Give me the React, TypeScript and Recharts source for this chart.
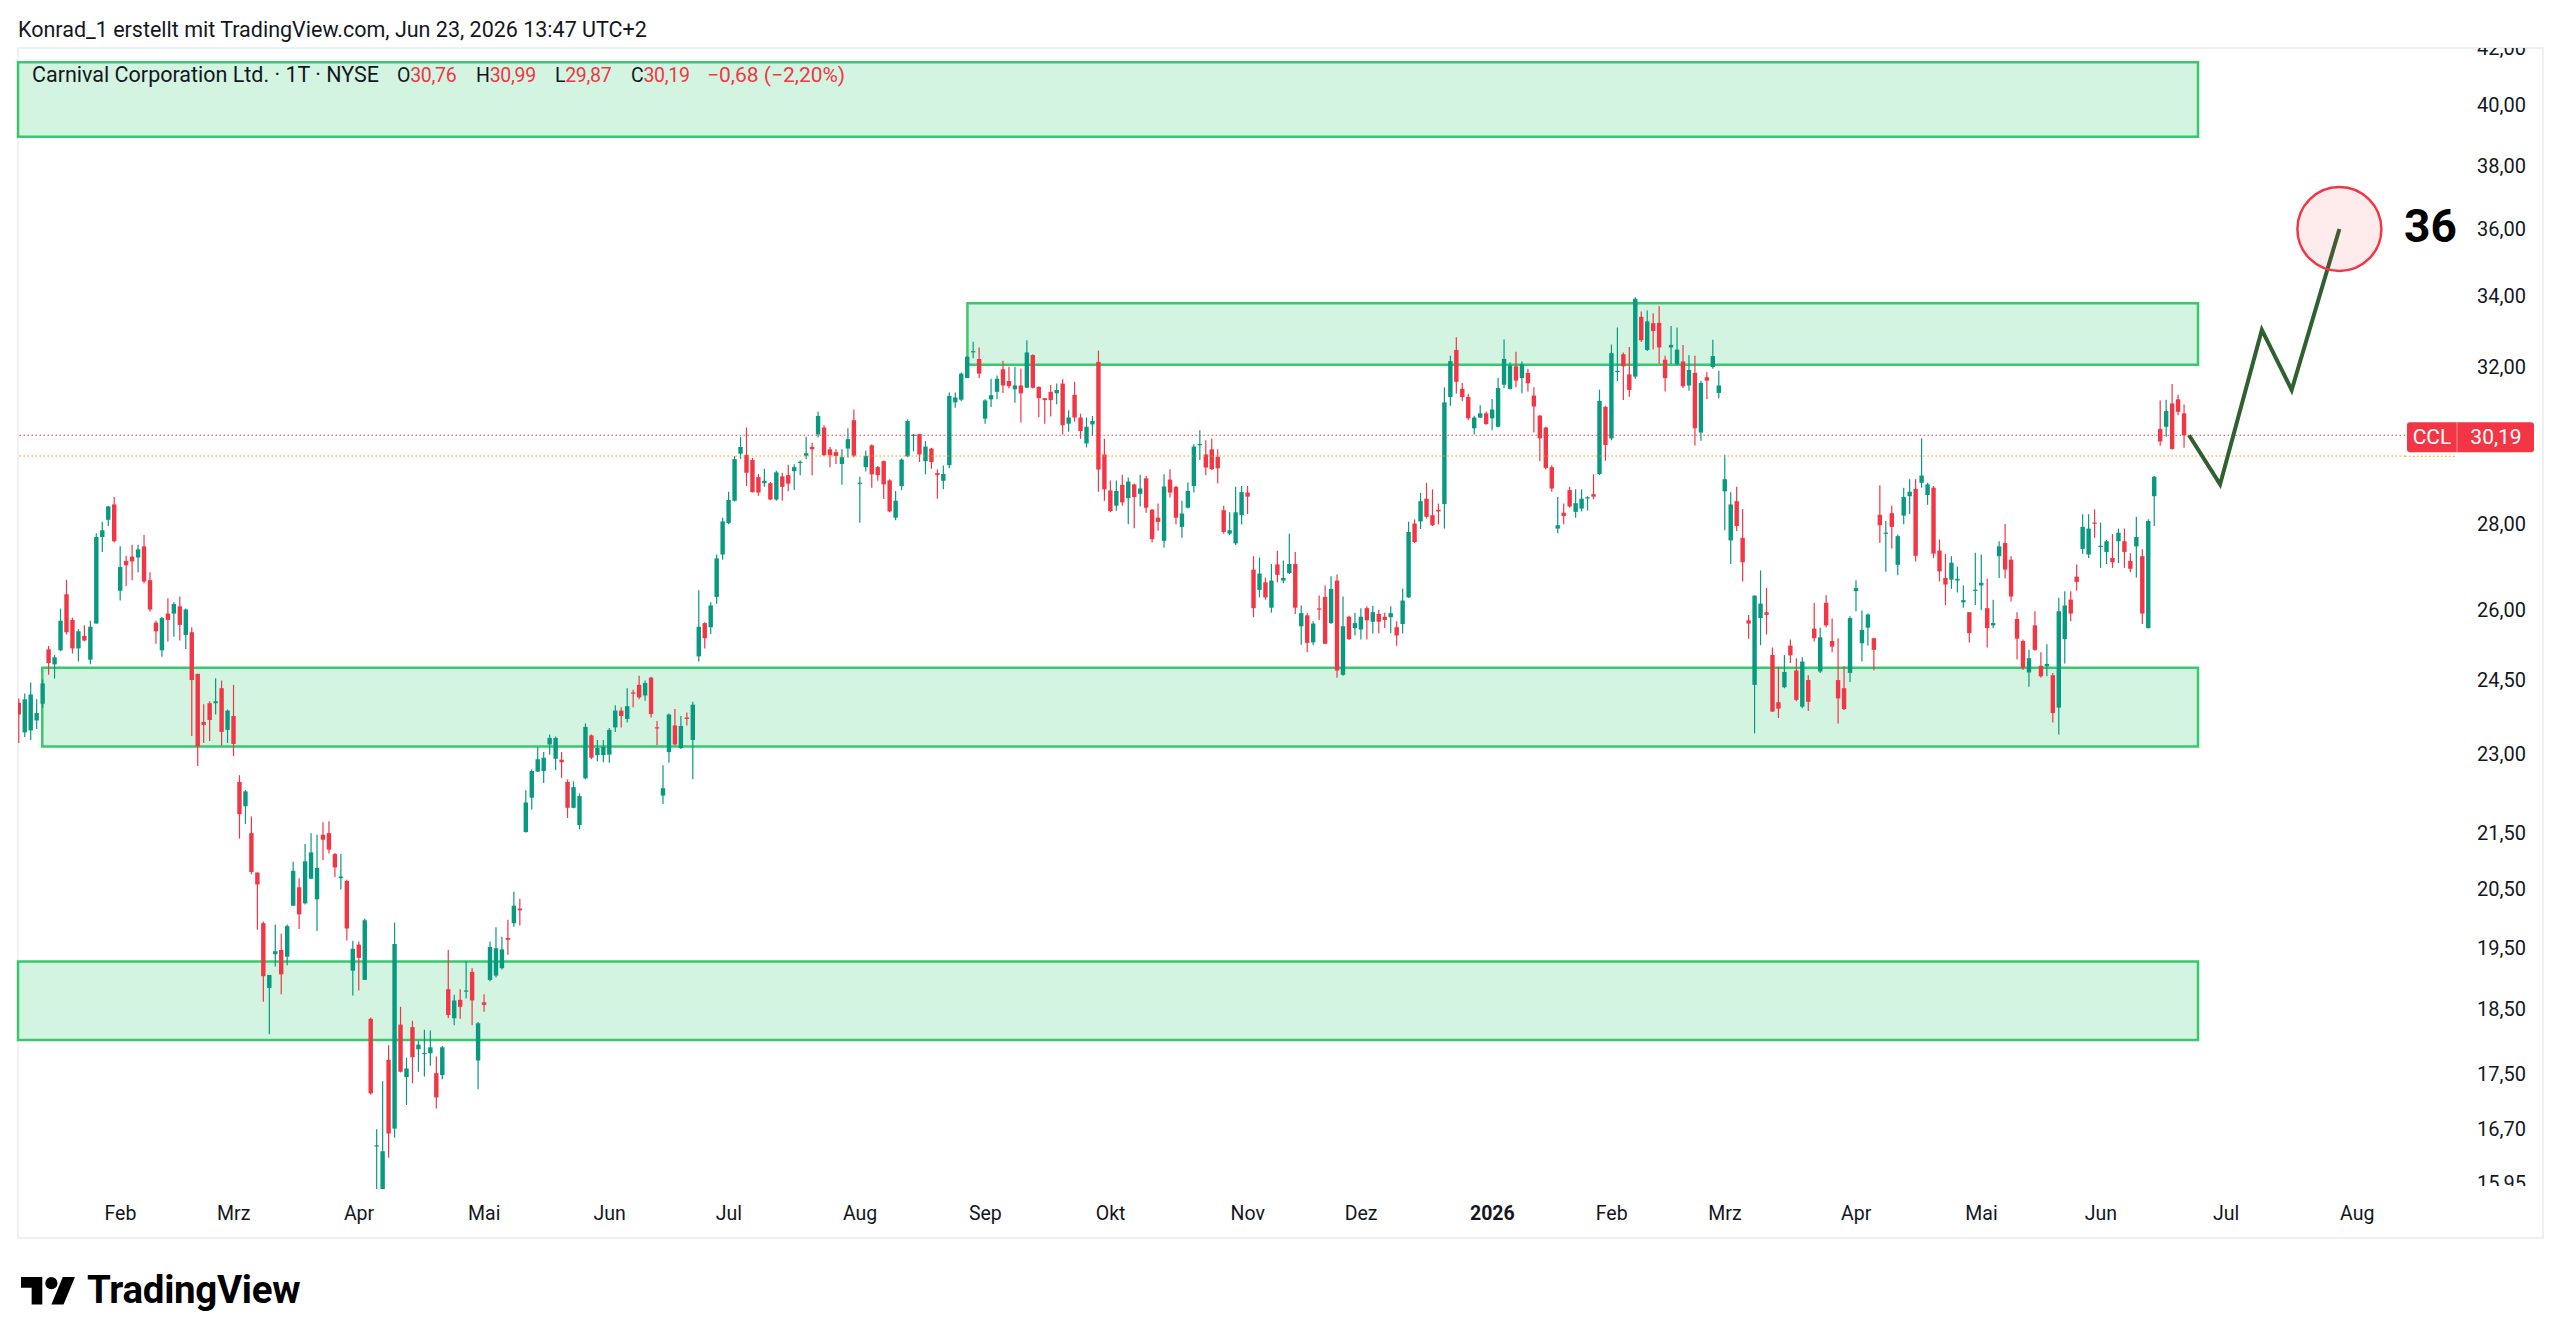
import React from 'react';
import { ComposedChart, Bar, Line, XAxis, YAxis, ReferenceArea, ReferenceLine, ReferenceDot } from 'recharts';

// ---------- data ----------
const FIRST_INDEX = -17; // trading-day index of first candle (0 = first February session)

const OPENS = [
  24.03, 23.43, 23.47, 23.67, 24.01, 25.15, 24.83, 25.13, 26.36, 25.79,
  25.17, 25.44, 24.93, 25.71, 27.68, 28.09, 28.46, 26.44, 27.12, 27.22,
  27.20, 27.46, 26.68, 25.73, 25.13, 25.93, 25.93, 26.09, 25.46, 25.52,
  24.63, 23.64, 24.02, 24.02, 24.33, 23.48, 23.76, 22.46, 22.00, 21.50,
  20.79, 19.91, 18.84, 19.39, 19.46, 19.35, 20.21, 20.53, 20.25, 20.68,
  20.32, 21.47, 21.50, 21.12, 20.69, 20.64, 19.12, 19.55, 18.97, 18.35,
  16.46, 15.87, 17.72, 16.71, 18.26, 17.46, 18.22, 17.88, 17.81, 17.82,
  17.52, 17.49, 18.82, 18.36, 18.65, 18.78, 19.10, 17.71, 18.61, 18.97,
  19.04, 19.16, 19.66, 19.91, 20.16, 21.52, 22.16, 22.66, 22.67, 23.19,
  22.91, 22.89, 22.46, 21.97, 21.65, 22.53, 23.37, 22.98, 22.98, 22.99,
  23.53, 23.87, 23.70, 24.24, 24.40, 24.18, 24.55, 23.53, 22.20, 23.04,
  23.57, 23.12, 23.73, 23.28, 25.00, 25.72, 25.63, 26.30, 27.27, 28.01,
  28.55, 29.72, 29.69, 29.56, 29.13, 28.98, 28.98, 28.58, 29.15, 29.18,
  29.28, 29.49, 29.67, 29.89, 30.21, 30.39, 29.83, 29.76, 29.46, 29.85,
  30.58, 28.97, 29.38, 29.93, 29.38, 29.53, 29.05, 28.14, 28.91, 29.65,
  30.18, 30.22, 29.53, 29.85, 29.23, 29.04, 29.43, 31.05, 31.12, 31.70,
  32.41, 32.22, 30.62, 31.13, 31.33, 31.94, 31.62, 31.40, 31.50, 31.44,
  32.33, 31.46, 31.16, 31.33, 31.29, 31.55, 30.49, 31.25, 30.65, 29.98,
  30.47, 32.14, 29.70, 28.80, 28.43, 28.94, 28.61, 28.95, 28.72, 29.10,
  28.33, 28.14, 27.59, 29.07, 28.89, 27.92, 28.38, 28.91, 29.94, 29.70,
  29.83, 29.64, 28.32, 27.76, 27.53, 28.20, 28.75, 26.92, 26.46, 26.63,
  26.06, 27.04, 26.67, 26.84, 27.05, 25.65, 25.89, 25.30, 26.04, 26.30,
  25.72, 26.67, 24.61, 25.86, 25.61, 25.58, 26.05, 25.75, 25.92, 25.86,
  25.85, 25.63, 25.70, 26.29, 28.00, 28.05, 28.60, 28.20, 28.33, 28.47,
  31.19, 32.47, 31.41, 31.19, 30.37, 30.65, 30.76, 30.63, 30.41, 31.52,
  31.41, 32.02, 31.70, 31.84, 31.23, 30.70, 30.39, 29.38, 27.88, 28.26,
  28.81, 28.28, 28.36, 28.61, 28.71, 29.21, 30.93, 30.11, 31.87, 32.35,
  31.80, 31.74, 33.40, 32.47, 33.22, 33.23, 32.20, 32.54, 32.08, 32.15,
  31.50, 31.84, 30.26, 31.72, 32.00, 31.30, 28.78, 27.60, 28.54, 27.66,
  25.78, 24.40, 25.83, 25.96, 25.03, 24.04, 24.35, 25.23, 24.70, 23.95,
  24.50, 25.60, 24.68, 26.17, 25.33, 24.50, 24.33, 24.65, 26.43, 25.28,
  25.62, 25.39, 28.21, 27.76, 28.25, 27.03, 28.19, 28.66, 28.84, 28.99,
  28.69, 28.87, 27.36, 26.73, 26.69, 26.67, 26.18, 25.96, 26.44, 26.56,
  26.05, 25.67, 27.23, 27.54, 27.15, 25.81, 25.33, 24.66, 25.67, 24.80,
  24.79, 24.60, 23.93, 25.37, 26.24, 26.76, 27.40, 27.27, 28.02, 27.45,
  27.33, 27.19, 27.58, 27.58, 27.12, 27.46, 27.23, 25.61, 28.66, 30.35,
  30.41, 31.02, 31.13, 30.76,
];

const HIGHS = [
  24.12, 24.22, 24.45, 24.10, 24.51, 25.22, 25.03, 26.04, 26.69, 25.84,
  25.59, 25.67, 25.77, 27.77, 28.04, 28.43, 28.64, 27.46, 27.24, 27.50,
  27.50, 27.73, 26.86, 25.77, 25.86, 26.27, 26.18, 26.31, 26.04, 25.63,
  24.63, 24.00, 24.06, 24.54, 24.49, 23.89, 24.40, 22.59, 22.31, 21.81,
  20.79, 19.94, 19.05, 19.89, 19.73, 19.89, 20.98, 20.69, 21.30, 21.50,
  21.47, 21.70, 21.72, 21.14, 21.12, 20.66, 19.61, 19.60, 19.99, 18.37,
  16.70, 17.40, 17.94, 19.92, 18.54, 17.75, 18.32, 18.01, 18.18, 18.17,
  17.77, 17.93, 19.46, 18.73, 18.82, 19.28, 19.16, 18.30, 18.74, 19.60,
  19.84, 19.68, 19.97, 20.45, 20.33, 22.30, 22.70, 23.14, 23.04, 23.39,
  23.35, 23.04, 22.51, 22.47, 22.24, 23.61, 23.39, 23.28, 23.28, 23.52,
  23.98, 23.94, 24.33, 24.30, 24.59, 24.49, 24.57, 23.66, 22.78, 23.81,
  23.90, 23.76, 23.83, 24.05, 26.45, 25.74, 26.18, 27.27, 28.14, 28.77,
  29.66, 30.15, 30.39, 29.61, 29.21, 29.34, 29.01, 29.29, 29.24, 29.44,
  29.45, 29.55, 30.15, 30.00, 30.80, 30.45, 29.89, 29.83, 29.83, 30.37,
  30.86, 29.14, 29.80, 29.96, 29.41, 29.55, 29.08, 28.79, 29.60, 30.60,
  30.22, 30.23, 30.04, 29.87, 29.32, 29.42, 31.31, 31.31, 31.85, 32.30,
  32.70, 32.54, 31.13, 31.68, 31.77, 32.17, 32.01, 32.01, 31.96, 32.74,
  32.35, 31.48, 31.16, 31.51, 31.55, 31.67, 30.84, 31.60, 30.75, 30.65,
  30.69, 32.45, 30.10, 29.05, 29.05, 29.19, 29.12, 28.97, 29.19, 29.16,
  28.35, 28.48, 29.20, 29.33, 28.91, 28.55, 29.00, 29.96, 30.32, 30.06,
  30.11, 29.83, 28.43, 28.27, 28.89, 28.91, 28.91, 27.23, 27.20, 26.74,
  27.05, 27.36, 27.13, 27.76, 27.33, 26.11, 25.94, 25.76, 26.33, 26.56,
  26.77, 26.81, 26.31, 25.88, 25.94, 26.05, 26.09, 26.10, 26.01, 25.95,
  26.09, 25.76, 26.49, 28.04, 28.10, 28.74, 28.99, 28.83, 28.48, 31.45,
  32.31, 32.82, 31.57, 31.28, 30.70, 30.97, 30.81, 31.14, 31.71, 32.76,
  32.13, 32.42, 32.15, 31.95, 31.45, 30.72, 30.41, 29.43, 28.64, 28.48,
  28.89, 28.83, 28.83, 28.66, 29.20, 31.39, 30.96, 32.62, 33.10, 32.40,
  32.55, 33.96, 33.55, 33.58, 33.50, 33.70, 32.31, 33.14, 33.10, 32.61,
  32.32, 32.31, 31.63, 31.86, 32.75, 31.90, 29.69, 28.76, 28.89, 28.35,
  25.90, 26.33, 26.90, 26.50, 25.19, 24.78, 25.03, 25.36, 24.96, 24.98,
  24.60, 26.17, 25.62, 26.34, 25.82, 25.39, 24.79, 25.87, 26.68, 26.00,
  25.93, 25.40, 28.93, 28.06, 28.43, 27.74, 28.87, 29.08, 29.08, 30.11,
  28.99, 28.91, 27.62, 27.28, 27.23, 26.99, 26.56, 25.96, 27.31, 27.27,
  26.71, 26.24, 27.58, 27.99, 27.23, 25.96, 25.36, 25.14, 25.98, 25.09,
  25.26, 24.65, 26.28, 26.43, 26.43, 27.04, 28.22, 28.22, 28.34, 28.02,
  27.61, 27.75, 27.88, 27.88, 27.30, 28.16, 27.39, 28.10, 29.16, 31.10,
  31.12, 31.54, 31.25, 30.99,
];

const LOWS = [
  23.22, 23.34, 23.28, 23.50, 23.93, 24.61, 24.53, 25.11, 25.47, 25.06,
  24.89, 25.32, 24.83, 25.71, 27.33, 27.94, 27.55, 26.22, 26.54, 26.68,
  26.86, 26.61, 25.97, 25.27, 24.99, 25.32, 25.42, 25.34, 25.16, 23.36,
  22.77, 23.22, 23.26, 23.79, 23.17, 23.22, 22.96, 21.40, 21.67, 20.76,
  19.80, 18.62, 18.11, 19.19, 18.74, 19.21, 20.21, 19.81, 20.23, 20.68,
  19.78, 21.01, 21.13, 20.71, 20.49, 19.62, 18.72, 18.80, 18.97, 17.20,
  15.87, 15.87, 16.30, 16.58, 17.53, 17.05, 17.37, 17.54, 17.47, 17.63,
  17.00, 17.43, 18.36, 18.25, 18.35, 18.67, 18.25, 17.28, 18.46, 18.95,
  19.01, 19.14, 19.38, 19.85, 19.87, 21.51, 21.94, 22.65, 22.44, 22.99,
  22.69, 22.54, 21.78, 21.96, 21.57, 22.51, 22.90, 22.86, 22.84, 22.83,
  23.44, 23.53, 23.63, 23.94, 24.10, 24.07, 23.73, 23.18, 22.04, 22.83,
  23.17, 23.10, 23.57, 22.51, 24.89, 25.17, 25.48, 26.15, 27.15, 27.98,
  28.53, 29.59, 28.91, 28.75, 28.67, 28.89, 28.56, 28.55, 28.55, 28.78,
  28.81, 29.18, 29.58, 29.18, 30.13, 29.66, 29.38, 29.46, 28.94, 29.62,
  29.63, 28.02, 29.27, 28.87, 29.04, 28.59, 28.27, 28.08, 28.81, 29.63,
  29.78, 29.51, 29.20, 29.34, 28.60, 28.83, 29.35, 30.91, 31.08, 31.70,
  32.24, 31.70, 30.49, 30.93, 31.13, 31.30, 31.42, 31.04, 30.52, 31.44,
  31.42, 30.66, 30.49, 30.68, 31.00, 30.21, 30.28, 30.54, 30.10, 29.88,
  30.18, 28.77, 28.55, 28.27, 28.31, 28.43, 27.98, 27.89, 28.41, 28.26,
  27.55, 27.83, 27.43, 28.63, 27.98, 27.66, 28.36, 28.75, 29.56, 29.18,
  29.31, 28.98, 27.76, 27.72, 27.49, 27.98, 28.23, 25.85, 26.29, 26.24,
  25.95, 26.63, 26.61, 26.82, 25.92, 25.25, 25.09, 25.24, 25.79, 25.26,
  25.70, 24.55, 24.59, 25.35, 25.45, 25.36, 25.36, 25.49, 25.50, 25.61,
  25.50, 25.23, 25.49, 26.28, 27.54, 27.87, 28.12, 27.94, 27.98, 27.88,
  30.96, 31.28, 31.08, 30.58, 30.21, 30.64, 30.46, 30.32, 30.39, 31.43,
  31.39, 31.45, 31.29, 31.34, 30.26, 29.53, 29.32, 28.77, 27.77, 27.98,
  28.38, 28.14, 28.29, 28.31, 28.59, 29.18, 29.54, 30.06, 31.62, 31.11,
  31.20, 31.68, 32.69, 32.44, 32.48, 32.08, 31.34, 32.08, 32.04, 31.43,
  31.36, 29.93, 30.05, 31.14, 31.95, 31.16, 27.84, 27.05, 27.82, 26.65,
  25.38, 23.41, 25.24, 25.47, 23.84, 23.72, 24.33, 24.86, 24.06, 23.92,
  23.86, 25.32, 24.65, 25.63, 25.09, 23.61, 23.88, 24.46, 25.98, 24.89,
  25.23, 24.70, 27.54, 26.87, 27.41, 26.79, 27.98, 28.23, 27.11, 28.87,
  28.45, 27.19, 26.65, 26.12, 26.48, 26.40, 26.06, 25.30, 26.12, 26.01,
  25.19, 25.61, 26.73, 26.72, 26.20, 24.94, 24.71, 24.36, 25.12, 24.55,
  24.58, 23.63, 23.39, 24.85, 25.76, 26.44, 27.28, 27.19, 27.66, 26.96,
  27.05, 26.96, 27.07, 26.96, 26.86, 26.74, 25.70, 25.60, 27.94, 29.92,
  30.15, 29.82, 30.71, 29.87,
];

const CLOSES = [
  23.79, 24.10, 24.20, 23.82, 24.43, 24.86, 24.98, 25.77, 25.52, 25.17,
  25.54, 25.34, 25.64, 27.68, 27.84, 28.41, 27.58, 26.98, 27.02, 27.11,
  27.39, 26.65, 26.02, 25.54, 25.83, 25.79, 26.14, 25.68, 26.02, 24.50,
  23.15, 23.58, 23.68, 24.06, 23.44, 23.87, 23.20, 21.85, 22.28, 20.80,
  20.58, 19.03, 19.05, 19.44, 19.06, 19.86, 20.82, 20.06, 20.99, 21.15,
  20.87, 21.38, 21.20, 20.88, 20.72, 19.82, 19.48, 19.33, 19.96, 17.22,
  16.47, 16.39, 16.64, 19.56, 17.54, 17.59, 17.76, 17.95, 17.82, 17.91,
  17.16, 17.91, 18.41, 18.64, 18.54, 18.80, 18.64, 18.28, 18.57, 19.51,
  19.49, 19.47, 19.63, 20.21, 20.13, 22.07, 22.67, 22.90, 22.93, 23.32,
  23.32, 22.84, 21.97, 22.36, 22.19, 23.54, 22.93, 23.12, 23.14, 23.48,
  23.87, 23.76, 23.96, 24.22, 24.14, 24.44, 23.80, 23.51, 22.34, 23.79,
  23.19, 23.56, 23.70, 23.99, 25.64, 25.39, 26.11, 27.18, 28.05, 28.57,
  29.58, 29.89, 29.24, 28.76, 28.75, 29.04, 28.58, 29.25, 28.89, 28.97,
  29.38, 29.51, 29.73, 29.83, 30.69, 29.68, 29.68, 29.66, 29.63, 30.09,
  29.67, 28.99, 29.66, 29.20, 29.18, 28.95, 28.29, 28.55, 29.57, 30.56,
  30.20, 29.70, 29.90, 29.51, 29.18, 29.21, 31.22, 31.18, 31.82, 32.28,
  32.43, 31.82, 31.10, 31.24, 31.68, 31.50, 31.48, 31.50, 31.29, 32.40,
  31.44, 31.16, 31.11, 31.11, 31.38, 30.45, 30.65, 30.65, 30.30, 30.41,
  30.56, 29.32, 28.83, 28.30, 28.79, 28.51, 29.02, 28.64, 28.85, 28.38,
  27.63, 28.04, 28.90, 28.75, 28.14, 28.24, 28.79, 29.90, 29.96, 29.37,
  29.33, 29.35, 27.80, 27.84, 28.27, 28.76, 28.65, 26.05, 26.83, 26.29,
  26.67, 26.80, 26.73, 27.05, 26.06, 25.94, 25.29, 25.71, 26.02, 25.27,
  26.48, 24.70, 25.65, 25.37, 25.72, 25.86, 25.78, 25.96, 25.75, 25.79,
  25.94, 25.45, 26.22, 27.80, 27.56, 28.54, 28.16, 27.96, 28.29, 31.05,
  32.16, 31.60, 31.19, 30.63, 30.65, 30.76, 30.48, 30.86, 31.43, 32.22,
  32.04, 31.63, 32.08, 31.56, 30.94, 30.11, 29.36, 28.85, 27.96, 28.18,
  28.41, 28.49, 28.60, 28.63, 28.65, 31.09, 29.94, 32.38, 31.89, 32.02,
  31.38, 33.92, 32.74, 33.27, 33.00, 32.54, 31.70, 32.61, 32.48, 31.48,
  31.92, 30.37, 31.57, 31.63, 32.30, 31.50, 29.08, 28.46, 27.94, 27.09,
  25.71, 26.33, 26.15, 25.90, 23.85, 23.91, 24.67, 25.02, 24.09, 24.89,
  24.05, 25.39, 25.41, 25.67, 25.21, 24.12, 23.90, 25.83, 26.50, 25.57,
  25.91, 25.14, 27.96, 27.78, 27.92, 27.70, 28.64, 28.77, 27.24, 29.17,
  28.95, 27.29, 26.88, 26.58, 27.08, 26.71, 26.23, 25.50, 26.46, 26.62,
  25.61, 25.72, 27.46, 26.92, 26.31, 25.38, 24.76, 24.96, 25.14, 24.58,
  24.84, 23.82, 25.98, 26.11, 25.93, 26.64, 27.92, 27.88, 28.00, 27.47,
  27.58, 27.09, 27.78, 27.33, 26.94, 27.68, 25.93, 28.06, 29.14, 30.03,
  30.82, 29.84, 30.80, 30.19,
];

const MONTH_TICKS = [0, 19, 40, 61, 82, 102, 124, 145, 166, 189, 208, 230, 250, 269, 291, 312, 332, 353, 375];
const MONTH_LABELS = ['Feb', 'Mrz', 'Apr', 'Mai', 'Jun', 'Jul', 'Aug', 'Sep', 'Okt', 'Nov', 'Dez', '2026', 'Feb', 'Mrz', 'Apr', 'Mai', 'Jun', 'Jul', 'Aug'];
const PRICE_TICKS = [15.95, 16.7, 17.5, 18.5, 19.5, 20.5, 21.5, 23, 24.5, 26, 28, 32, 34, 36, 38, 40, 42];

const X_DOMAIN = [-17.17, 383];
const Y_DOMAIN = [15.83, 42.01];

// support / resistance zones (time index range, price range)
const ZONE_X1 = [-17.17, 142, -13.1, -17.17];
const ZONE_X2 = [348.3, 348.3, 348.3, 348.3];
const ZONE_TOP = [41.5, 33.79, 24.76, 19.27];
const ZONE_BOTTOM = [38.95, 32.06, 23.15, 18.02];

// projected path
const PROJ_T = [346.8, 352, 359, 364, 372];
const PROJ_V = [30.19, 28.95, 33.03, 31.38, 36];

const TARGET_T = 372;
const TARGET_PRICE = 36;
const TARGET_LABEL = '36';

const TICKER = 'CCL';
const LAST_PRICE = 30.19;
const ALT_PRICE = 29.66;

const HEADER = 'Konrad_1 erstellt mit TradingView.com, Jun 23, 2026 13:47 UTC+2';
const SYMBOL_TITLE = 'Carnival Corporation Ltd. · 1T · NYSE';
const LEGEND_KEYS = ['O', 'H', 'L', 'C'];
const LEGEND_VALUES = ['30,76', '30,99', '29,87', '30,19'];
const LEGEND_CHANGE = '−0,68 (−2,20%)';

// ---------- styles ----------
const FONT = "Roboto, 'Liberation Sans', Arial, sans-serif";
const UP = '#089981';
const DOWN = '#f23645';
const TEXT = '#131722';
const ZONE_FILL = '#d3f4e1';
const ZONE_STROKE = '#3bc76d';
const PLOT_TOP = 48;
const PLOT_BOTTOM = 1192;
const LEGEND_LEFTS = [397, 476, 555, 631, 707];

const candles = OPENS.map((o, k) => ({
  t: FIRST_INDEX + k,
  o,
  h: HIGHS[k],
  l: LOWS[k],
  c: CLOSES[k],
  range: [LOWS[k], HIGHS[k]],
}));

const projection = PROJ_T.map((t, k) => ({ t, v: PROJ_V[k] }));

const fmt = (v: number) => v.toFixed(2).replace('.', ',');

const Candle = (props: any) => {
  const { x, y, width, height, payload } = props;
  if (!payload || x == null || y == null) return null;
  const { o, h, l, c } = payload;
  const top = Math.min(y, y + height);
  const bot = Math.max(y, y + height);
  const span = Math.log(h) - Math.log(l);
  const yOf = (v: number) => (span > 0 ? top + ((bot - top) * (Math.log(h) - Math.log(v))) / span : top);
  const cx = x + width / 2;
  const col = c >= o ? UP : DOWN;
  const yO = yOf(o);
  const yC = yOf(c);
  let bTop = Math.min(yO, yC);
  let bH = Math.abs(yO - yC);
  if (bH < 1.2) {
    bTop = (yO + yC) / 2 - 0.6;
    bH = 1.2;
  }
  return (
    <g>
      <line x1={cx} x2={cx} y1={top} y2={bot} stroke={col} strokeWidth={1.2} />
      <rect x={cx - 2.2} y={bTop} width={4.4} height={bH} fill={col} />
    </g>
  );
};

const XTick = (props: any) => {
  const { x, y, payload } = props;
  const k = MONTH_TICKS.indexOf(payload.value);
  const label = k >= 0 ? MONTH_LABELS[k] : '';
  return (
    <text
      x={x}
      y={y + 13}
      textAnchor="middle"
      dominantBaseline="central"
      fontSize={19.5}
      fontFamily={FONT}
      fontWeight={label === '2026' ? 700 : 400}
      fill={TEXT}
    >
      {label}
    </text>
  );
};

const YTick = (props: any) => {
  const { x, y, payload, index } = props;
  const id = `yclip-${index}`;
  return (
    <g>
      <defs>
        <clipPath id={id}>
          <rect x={x - 20} y={PLOT_TOP} width={160} height={PLOT_BOTTOM - 6 - PLOT_TOP} />
        </clipPath>
      </defs>
      <g clipPath={`url(#${id})`}>
        <text x={x + 113} y={y} textAnchor="end" dominantBaseline="central" fontSize={20} fontFamily={FONT} fill={TEXT}>
          {fmt(payload.value)}
        </text>
      </g>
    </g>
  );
};

const PriceTag = (props: any) => {
  const vb = props.viewBox || {};
  const right = (vb.x || 0) + (vb.width || 0);
  const cy = (vb.y || 0) + 2;
  return (
    <g>
      <line x1={right} x2={right + 52} y1={cy + 19} y2={cy + 19} stroke="#ff9800" strokeDasharray="1.5 2.5" strokeWidth={1} />
      <rect x={right + 2} y={cy - 15} width={127} height={30} rx={3} fill={DOWN} />
      <line x1={right + 52} x2={right + 52} y1={cy - 15} y2={cy + 15} stroke="rgba(255,255,255,0.45)" strokeWidth={1} />
      <text x={right + 27} y={cy} textAnchor="middle" dominantBaseline="central" fontSize={21} fontFamily={FONT} fill="#fff">
        {TICKER}
      </text>
      <text x={right + 91} y={cy} textAnchor="middle" dominantBaseline="central" fontSize={21} fontFamily={FONT} fill="#fff">
        {fmt(LAST_PRICE)}
      </text>
    </g>
  );
};

const TargetMark = (props: any) => {
  const { cx, cy } = props;
  if (cx == null || cy == null) return null;
  return (
    <g>
      <circle cx={cx} cy={cy} r={42} fill="rgba(242,54,69,0.1)" stroke={DOWN} strokeWidth={2.5} />
      <text x={cx + 91} y={cy - 3} textAnchor="middle" dominantBaseline="central" fontSize={46} fontWeight={700} fontFamily={FONT} fill="#000">
        {TARGET_LABEL}
      </text>
    </g>
  );
};

export default function App() {
  return (
    <div style={{ position: 'absolute', left: 0, top: 0, width: 2560, height: 1344, background: '#fff', overflow: 'hidden', fontFamily: FONT }}>
      <div style={{ position: 'absolute', left: 17, top: 47, width: 2523, height: 1188, border: '2px solid #eef0f3' }} />
      <div style={{ position: 'absolute', left: 0, top: 0 }}>
        <ComposedChart width={2560} height={1344} data={candles} margin={{ top: PLOT_TOP, right: 18, bottom: 107, left: 18 }}>
          {ZONE_X1.map((x1, k) => (
            <ReferenceArea
              key={`z${k}`}
              x1={x1}
              x2={ZONE_X2[k]}
              y1={ZONE_BOTTOM[k]}
              y2={ZONE_TOP[k]}
              fill={ZONE_FILL}
              fillOpacity={1}
              stroke={ZONE_STROKE}
              strokeWidth={2.5}
              ifOverflow="visible"
            />
          ))}
          <XAxis
            type="number"
            dataKey="t"
            domain={X_DOMAIN}
            allowDataOverflow
            ticks={MONTH_TICKS}
            interval={0}
            tick={<XTick />}
            axisLine={false}
            tickLine={false}
            height={45}
          />
          <YAxis
            type="number"
            orientation="right"
            scale="log"
            domain={Y_DOMAIN}
            allowDataOverflow
            ticks={PRICE_TICKS}
            interval={0}
            tick={<YTick />}
            axisLine={false}
            tickLine={false}
            width={137}
          />
          <ReferenceLine y={ALT_PRICE} stroke="#ff9800" strokeDasharray="1.5 2.5" strokeWidth={1} />
          <ReferenceLine y={LAST_PRICE} stroke={DOWN} strokeDasharray="1.5 2.5" strokeWidth={1} label={<PriceTag />} />
          <Bar dataKey="range" barSize={5} shape={<Candle />} isAnimationActive={false} />
          <Line
            data={projection}
            dataKey="v"
            type="linear"
            stroke="#2f6130"
            strokeWidth={4}
            dot={false}
            activeDot={false}
            isAnimationActive={false}
          />
          <ReferenceDot x={TARGET_T} y={TARGET_PRICE} r={42} ifOverflow="visible" shape={<TargetMark />} />
        </ComposedChart>
      </div>
      <div style={{ position: 'absolute', left: 18, top: 18, fontSize: 21.5, lineHeight: '24px', color: TEXT, whiteSpace: 'nowrap' }}>
        {HEADER}
      </div>
      <div style={{ position: 'absolute', left: 32, top: 63, fontSize: 21.5, lineHeight: '24px', color: TEXT, whiteSpace: 'nowrap' }}>
        {SYMBOL_TITLE}
      </div>
      {LEGEND_KEYS.map((k, i) => (
        <div key={k} style={{ position: 'absolute', left: LEGEND_LEFTS[i], top: 64, fontSize: 19.5, lineHeight: '24px', color: TEXT, whiteSpace: 'nowrap', letterSpacing: -0.3 }}>
          {k}
          <span style={{ color: DOWN }}>{LEGEND_VALUES[i]}</span>
        </div>
      ))}
      <div style={{ position: 'absolute', left: LEGEND_LEFTS[4], top: 63, fontSize: 21, lineHeight: '24px', color: DOWN, whiteSpace: 'nowrap' }}>
        {LEGEND_CHANGE}
      </div>
      <svg style={{ position: 'absolute', left: 0, top: 1250 }} width={400} height={80}>
        <g transform="translate(21,21) scale(1.52)">
          <path d="M14 22H7V11H0V4h14v18z" fill="#000" />
          <circle cx={20} cy={8} r={4} fill="#000" />
          <path d="M28 22h-8l7.5-18h8L28 22z" fill="#000" />
        </g>
        <text x={87} y={53} fontSize={38.5} fontWeight={700} fontFamily={FONT} fill="#000" letterSpacing={-0.3}>
          TradingView
        </text>
      </svg>
    </div>
  );
}
